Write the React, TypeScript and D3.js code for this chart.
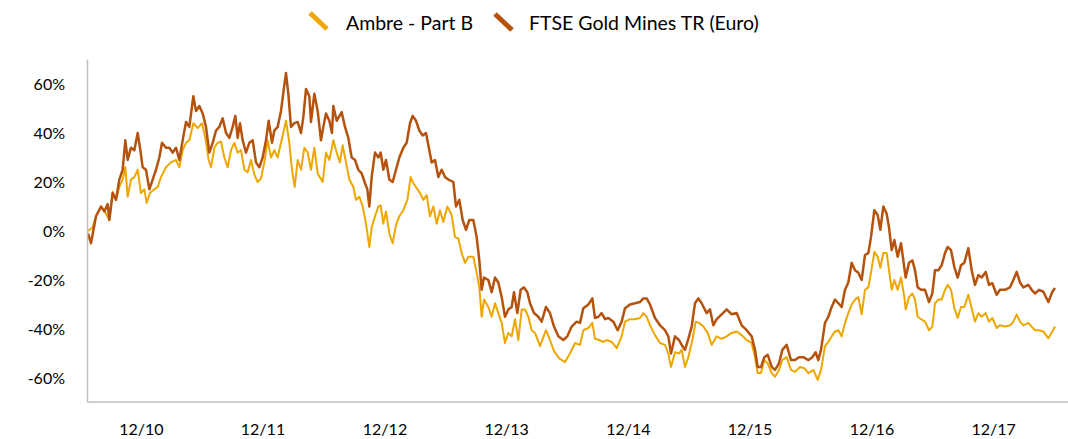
import React from "react";
import * as d3 from "d3";

// day offsets are counted from 2010-06-24, values in %
const START = new Date(2010, 5, 24);
const SPAN_DAYS = 2940;

const ambre: [number, number][] = [
  [0, 0], [14, 1.5], [24, 6], [39, 10], [54, 7], [64, 4.5], [74, 16], [84, 12.7], [94, 18], [104, 21],
  [112, 26], [119, 14], [129, 21], [139, 22], [149, 25], [159, 15.5], [169, 17], [176, 11.5], [186, 15.5],
  [199, 17], [209, 18], [219, 22], [234, 26], [249, 28], [264, 29], [274, 26], [284, 33], [294, 36],
  [304, 37], [316, 44], [329, 42], [342, 44], [352, 38], [362, 29], [369, 26], [379, 34], [389, 36],
  [399, 36.5], [409, 30], [419, 26], [429, 33], [439, 36], [449, 32], [459, 33], [469, 25], [479, 24],
  [489, 29], [499, 23], [509, 20], [519, 21.5], [529, 28], [539, 37], [549, 30], [559, 33], [569, 30],
  [579, 36], [589, 42], [594, 45], [604, 36], [612, 25], [620, 18], [629, 29], [639, 25], [649, 34],
  [659, 32], [669, 25], [679, 34], [689, 23.5], [704, 20], [714, 32], [724, 29], [736, 37], [746, 32],
  [756, 28], [764, 35], [774, 28], [784, 21], [796, 18], [804, 12.7], [814, 14], [824, 10], [834, 3],
  [844, -6.5], [851, 1.5], [861, 6], [871, 10], [878, 10.5], [886, 3], [894, 8], [904, -1], [914, -5],
  [924, 2.5], [934, 6], [946, 8.5], [958, 12.7], [968, 22], [976, 19.5], [986, 17.5], [996, 15.5],
  [1006, 12.7], [1016, 14.7], [1026, 6], [1036, 10], [1046, 3], [1056, 8.5], [1066, 3.7], [1078, 10],
  [1091, 6.5], [1101, -2.5], [1111, -3], [1121, -9], [1131, -13], [1141, -10.5], [1156, -10.5],
  [1166, -17], [1174, -23], [1181, -35], [1188, -28], [1201, -31], [1211, -35], [1221, -29.5],
  [1231, -33.5], [1241, -37.5], [1251, -45.7], [1261, -41.6], [1271, -43], [1281, -36], [1291, -44.5],
  [1301, -32], [1311, -32], [1321, -35], [1331, -40.5], [1341, -41.6], [1356, -47], [1374, -40.5],
  [1386, -44.5], [1398, -49], [1414, -52], [1431, -53.5], [1446, -50], [1461, -45.7], [1476, -46.5],
  [1486, -40.5], [1501, -39.6], [1513, -37.5], [1521, -44], [1533, -44.5], [1546, -45.3], [1556, -44.5],
  [1571, -45.3], [1586, -47.8], [1601, -43], [1611, -37], [1626, -36], [1641, -36], [1656, -35.5],
  [1666, -33.5], [1676, -35], [1686, -38.5], [1701, -42.5], [1716, -45.7], [1731, -46.5], [1741, -50],
  [1749, -55.5], [1761, -49.5], [1773, -50], [1781, -48.5], [1791, -55.5], [1801, -51.5], [1813, -44.5],
  [1823, -37], [1833, -37.5], [1846, -39], [1859, -41.6], [1871, -46.5], [1886, -43], [1901, -44],
  [1916, -43], [1931, -41.6], [1946, -41], [1961, -42.5], [1976, -44.5], [1991, -45.7], [2001, -51.5],
  [2009, -58], [2019, -58], [2029, -52.7], [2039, -54], [2051, -58], [2061, -59.5], [2073, -56.7],
  [2083, -52.7], [2096, -51.5], [2109, -56.7], [2121, -57.5], [2136, -55.5], [2149, -56], [2161, -58],
  [2176, -56.7], [2189, -60.8], [2199, -56.7], [2211, -47], [2221, -45.3], [2231, -43], [2241, -41],
  [2251, -40.5], [2261, -43], [2271, -37.5], [2281, -33.5], [2291, -30], [2301, -28], [2311, -27],
  [2321, -34], [2331, -24], [2341, -23], [2349, -17], [2359, -8.5], [2369, -10.5], [2377, -15],
  [2386, -9], [2396, -9], [2403, -16], [2411, -24], [2419, -20], [2429, -24], [2439, -19], [2449, -27],
  [2453, -32], [2463, -27], [2473, -25.5], [2481, -28], [2489, -35], [2499, -36], [2511, -37],
  [2523, -40.5], [2533, -39], [2541, -29.5], [2551, -28], [2561, -28], [2571, -24], [2579, -22],
  [2589, -24], [2599, -31.5], [2609, -35.5], [2619, -31], [2629, -31], [2641, -26], [2651, -31.5],
  [2661, -37], [2671, -33.5], [2681, -35], [2693, -33.5], [2703, -37], [2713, -35.5], [2726, -39.6],
  [2736, -38.5], [2751, -39], [2766, -38.5], [2776, -37], [2786, -34], [2796, -37], [2806, -38.5],
  [2821, -37.5], [2831, -39], [2841, -40.5], [2853, -40.5], [2866, -41], [2881, -43.8], [2893, -41],
  [2901, -39],
];

const ftse: [number, number][] = [
  [0, -1], [9, -5], [24, 6], [39, 10], [49, 8], [59, 11], [64, 4.5], [74, 15.5], [84, 12.7], [94, 21],
  [104, 25], [112, 37], [119, 29], [129, 34], [139, 33], [149, 40], [156, 34], [164, 26], [174, 25],
  [184, 17], [194, 21], [204, 25], [214, 30], [222, 36], [234, 34], [244, 34], [254, 32], [264, 34],
  [274, 29], [284, 37], [294, 44.5], [304, 42.5], [316, 55], [324, 49], [334, 51], [344, 48],
  [354, 42.5], [364, 32], [374, 36], [384, 41], [394, 42.5], [404, 46], [414, 40], [424, 38],
  [434, 42.5], [442, 47], [449, 38], [456, 44], [464, 37], [474, 32], [484, 36], [494, 37], [504, 28],
  [514, 26], [524, 30], [534, 37], [542, 45], [552, 36], [559, 41], [569, 42.5], [579, 49], [587, 57.5],
  [594, 64.5], [601, 56], [609, 42.5], [619, 44], [629, 44.5], [639, 40], [646, 46.5], [654, 58],
  [664, 55], [669, 44.5], [679, 56], [689, 49], [699, 37], [706, 42.5], [714, 48], [724, 45], [732, 40],
  [736, 51], [746, 45], [761, 48.5], [771, 42.5], [781, 38], [791, 30], [801, 29], [811, 25],
  [821, 23.5], [831, 19.5], [838, 17], [844, 10], [851, 22], [861, 32], [871, 30], [878, 32], [886, 25],
  [894, 29], [904, 21], [914, 20], [924, 25], [934, 30], [946, 34], [956, 36], [966, 44], [974, 47],
  [984, 45], [994, 41], [1004, 39], [1014, 40], [1024, 33], [1031, 28], [1041, 29], [1051, 22],
  [1061, 25], [1071, 22], [1081, 21], [1096, 20], [1104, 10], [1114, 12.7], [1124, 4.5], [1134, 0.5],
  [1144, 4.5], [1156, 4.5], [1166, -2.5], [1174, -12], [1181, -24], [1188, -19], [1201, -20],
  [1211, -25], [1221, -19], [1231, -21], [1241, -27], [1251, -35], [1261, -32], [1271, -31],
  [1278, -25], [1288, -33.5], [1298, -24], [1308, -23], [1318, -25], [1326, -29.5], [1338, -33.5],
  [1351, -35], [1361, -37], [1374, -31], [1386, -33.5], [1398, -39], [1411, -43], [1426, -44.5],
  [1438, -43], [1451, -39], [1466, -37], [1476, -37.5], [1486, -31.5], [1501, -30], [1513, -27.5],
  [1521, -35.5], [1531, -35], [1541, -33.5], [1551, -36], [1561, -35.5], [1576, -37], [1589, -40.5],
  [1601, -37], [1611, -31.5], [1626, -30], [1641, -29.5], [1656, -29], [1666, -27.5], [1676, -27.5],
  [1686, -30], [1701, -35.5], [1716, -38.5], [1731, -40.5], [1741, -43], [1749, -50], [1761, -43],
  [1773, -44.5], [1781, -46.5], [1791, -48.5], [1801, -44], [1811, -39], [1821, -29.5], [1831, -27.5],
  [1841, -29.5], [1856, -33.5], [1866, -32], [1876, -38.5], [1886, -36], [1901, -34], [1916, -32],
  [1931, -34], [1946, -33.5], [1961, -38.5], [1976, -40.5], [1991, -43], [2001, -48.5], [2009, -55.5],
  [2019, -55.5], [2029, -51.5], [2039, -50.5], [2051, -55.5], [2061, -56.7], [2073, -54], [2083, -48.5],
  [2096, -46.5], [2109, -52.7], [2121, -52.7], [2133, -51.5], [2146, -51.5], [2161, -52.7],
  [2173, -51.5], [2183, -49.5], [2191, -52.7], [2199, -48.5], [2211, -37.5], [2221, -35], [2231, -31],
  [2241, -28], [2251, -29.5], [2261, -31], [2271, -24], [2281, -21], [2291, -13], [2301, -16],
  [2311, -17], [2321, -20], [2331, -9.8], [2341, -9], [2349, -2.5], [2359, 8.5], [2369, 6.5],
  [2377, 0.5], [2386, 10], [2396, 7], [2403, 1.5], [2411, -7.8], [2419, -3.7], [2429, -10.5],
  [2439, -5], [2446, -12], [2453, -19], [2463, -13], [2473, -12], [2481, -16], [2489, -23], [2499, -24],
  [2511, -24], [2523, -29], [2533, -25.5], [2541, -16], [2551, -16], [2561, -14], [2571, -9],
  [2579, -6.5], [2589, -7.8], [2599, -14.7], [2609, -19], [2619, -14], [2629, -13], [2641, -7],
  [2651, -16], [2661, -22], [2671, -18], [2681, -19], [2693, -16.7], [2703, -22], [2713, -21.3],
  [2726, -26], [2736, -24], [2751, -24], [2766, -23], [2776, -20], [2786, -16.7], [2796, -21],
  [2806, -23], [2821, -22], [2831, -24], [2841, -25.5], [2853, -24], [2866, -24.8], [2881, -29],
  [2893, -24.8], [2901, -23.3],
];

const yTicks = [-60, -40, -20, 0, 20, 40, 60];
const xTickYears = [2010, 2011, 2012, 2013, 2014, 2015, 2016, 2017];

const seriesNames = ["Ambre - Part B", "FTSE Gold Mines TR (Euro)"];
const seriesColors = ["#EEA700", "#B5530E"];

const W = 1068;
const H = 439;
const font = "Lato, 'Open Sans', sans-serif";

export default function App() {
  const x = d3
    .scaleTime()
    .domain([START, d3.timeDay.offset(START, SPAN_DAYS)])
    .range([88, 1068]);
  const y = d3.scaleLinear().domain([-70, 70]).range([402.5, 59.5]);

  const line = d3
    .line<[number, number]>()
    .x((d) => x(d3.timeDay.offset(START, d[0])))
    .y((d) => y(d[1]));

  const fmt = d3.timeFormat("%m/%y");

  return (
    <div style={{ position: "absolute", left: 0, top: 0 }}>
      <svg width={W} height={H} style={{ display: "block", background: "#fff" }}>
        {/* legend */}
        <g fontFamily={font} fontSize={19.5} fill="#000">
          <line x1={310} y1={13} x2={327} y2={29} stroke={seriesColors[0]} strokeWidth={5} />
          <text x={346} y={30}>{seriesNames[0]}</text>
          <line x1={495} y1={14} x2={512} y2={30} stroke={seriesColors[1]} strokeWidth={5} />
          <text x={529} y={30}>{seriesNames[1]}</text>
        </g>

        {/* y labels */}
        <g fontFamily={font} fontSize={16} fill="#000" textAnchor="end">
          {yTicks.map((t) => (
            <text key={t} x={65} y={y(t)} dy="0.36em">
              {`${t}%`}
            </text>
          ))}
        </g>

        {/* x labels */}
        <g fontFamily={font} fontSize={16} fill="#000" textAnchor="middle">
          {xTickYears.map((yr) => {
            const d = new Date(yr, 11, 1);
            return (
              <text key={yr} x={x(d)} y={435}>
                {fmt(d)}
              </text>
            );
          })}
        </g>

        {/* series */}
        <path d={line(ambre) ?? ""} fill="none" stroke={seriesColors[0]} strokeWidth={2} strokeLinejoin="round" />
        <path d={line(ftse) ?? ""} fill="none" stroke={seriesColors[1]} strokeWidth={2.5} strokeLinejoin="round" />

        {/* axes */}
        <line x1={87.5} y1={59.5} x2={87.5} y2={402.5} stroke="#BFBFBF" strokeWidth={1.5} />
        <line x1={87.5} y1={402} x2={1068} y2={402} stroke="#BFBFBF" strokeWidth={1.5} />
      </svg>
    </div>
  );
}
